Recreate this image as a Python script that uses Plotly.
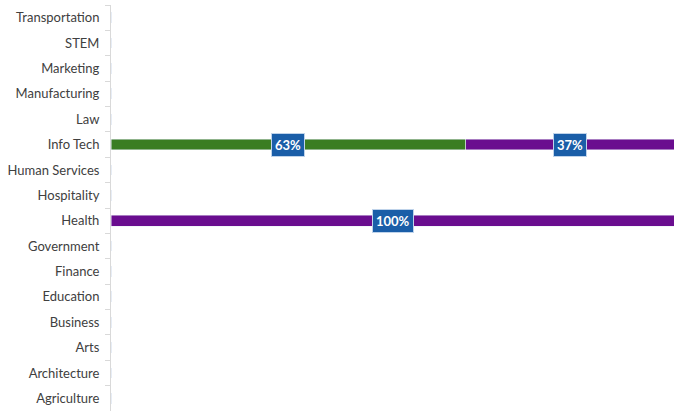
import plotly.graph_objects as go

categories = ["Transportation", "STEM", "Marketing", "Manufacturing", "Law", "Info Tech",
              "Human Services", "Hospitality", "Health", "Government", "Finance",
              "Education", "Business", "Arts", "Architecture", "Agriculture"]
green_vals = [0, 0, 0, 0, 0, 0.63, 0, 0, 0, 0, 0, 0, 0, 0, 0, 0]
purple_vals = [0, 0, 0, 0, 0, 0.37, 0, 0, 1.00, 0, 0, 0, 0, 0, 0, 0]

GREEN = "#3A7D22"
PURPLE = "#6A0D8F"
BOX = "#1A5EA8"

fig = go.Figure()
fig.add_trace(go.Bar(y=categories, x=green_vals, orientation="h", marker_color=GREEN,
                     width=0.42, hoverinfo="skip"))
fig.add_trace(go.Bar(y=categories, x=purple_vals, orientation="h", marker_color=PURPLE,
                     width=0.42, hoverinfo="skip"))

annotations = []
for cat, g, p in zip(categories, green_vals, purple_vals):
    for start, val in ((0, g), (g, p)):
        if val > 0:
            annotations.append(dict(
                x=start + val / 2, y=cat, xref="x", yref="y",
                text="<b>%d%%</b>" % round(val * 100), showarrow=False,
                font=dict(color="white", size=13, family="Lato"),
                bgcolor=BOX, bordercolor="#BFD3EA", borderwidth=1, borderpad=3,
            ))

fig.update_layout(
    barmode="stack",
    width=678, height=411,
    margin=dict(l=111, r=4, t=5, b=0),
    plot_bgcolor="white", paper_bgcolor="white",
    showlegend=False,
    annotations=annotations,
    font=dict(family="Lato", size=13, color="#404040"),
)
fig.update_xaxes(range=[0, 1], visible=False, fixedrange=True)
fig.update_yaxes(autorange="reversed", showline=True, linecolor="#D9D9D9", linewidth=1,
                 ticks="outside", tickson="boundaries", ticklen=5, tickcolor="#D9D9D9",
                 showgrid=False, tickfont=dict(family="Lato", size=13, color="#404040"),
                 ticklabelstandoff=8, fixedrange=True)

fig.write_html("out.html", config={"displayModeBar": False},
               post_script="document.body.style.margin='0';")
